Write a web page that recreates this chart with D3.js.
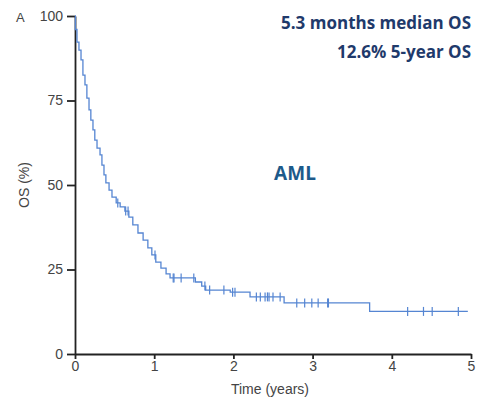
<!DOCTYPE html>
<html>
<head>
<meta charset="utf-8">
<script src="https://cdn.jsdelivr.net/npm/d3@7"></script>
<style>
  body { margin: 0; background: #fff; }
  .axis path, .axis line { stroke: #222; }
  .axis text { font-family: "Liberation Sans", Arial, sans-serif; font-size: 14px; fill: #444; }
</style>
</head>
<body>
<script>
// step points of the Kaplan-Meier curve (years, % surviving)
var stepTimes = [0, 0.005, 0.025, 0.05, 0.076, 0.10, 0.126, 0.15, 0.177, 0.20, 0.227, 0.25, 0.278,
    0.316, 0.34, 0.366, 0.39, 0.43, 0.467, 0.52, 0.57, 0.63, 0.68, 0.73, 0.795, 0.86, 0.92,
    0.97, 1.02, 1.085, 1.15, 1.2, 1.52, 1.6, 1.65, 1.96, 2.21, 2.64, 3.72];
var stepSurv = [100, 96, 92.3, 89.9, 87, 82.5, 79.6, 75.7, 72.2, 69.2, 66.3, 63.3, 60.9,
    58.9, 55.9, 53, 50.6, 48.5, 46.4, 44.7, 43.5, 42.3, 40.5, 38.2, 35.8, 33.7, 31.4,
    29.3, 27.2, 25.4, 23.7, 22.5, 21.3, 20.1, 18.9, 18.3, 16.9, 15.1, 12.6];
var endTime = 4.96;

// censored observations (years)
var censorTimes = [0.54, 0.64, 0.67, 1.01, 1.24, 1.25, 1.34, 1.5, 1.64, 1.7, 1.88, 1.99, 2.02,
    2.29, 2.34, 2.4, 2.43, 2.45, 2.5, 2.59, 2.8, 2.9, 2.99, 3.07, 3.19, 3.2,
    4.2, 4.4, 4.51, 4.84];

var xTicks = [0, 1, 2, 3, 4, 5];
var yTicks = [0, 25, 50, 75, 100];

var width = 486,
    height = 401;

var svg = d3.select("body")
    .append("svg")
    .attr("width", width)
    .attr("height", height);

var x = d3.scaleLinear().domain([0, 5]).range([75, 471]);
var y = d3.scaleLinear().domain([0, 100]).range([354, 16]);

//axes
svg.append("g")
    .attr("class", "axis")
    .attr("transform", "translate(0,354)")
    .call(d3.axisBottom(x).tickValues(xTicks).tickFormat(d3.format("d"))
        .tickSize(5).tickSizeOuter(0).tickPadding(2))
    .call(function(g){ g.selectAll("path, line").attr("stroke-width", 1.8); });

svg.append("g")
    .attr("class", "axis")
    .attr("transform", "translate(75,0)")
    .call(d3.axisLeft(y).tickValues(yTicks).tickSize(8).tickSizeOuter(0).tickPadding(4))
    .call(function(g){ g.selectAll("path, line").attr("stroke-width", 1.8); });

//axis titles
svg.append("text")
    .attr("x", x(2.5) - 3)
    .attr("y", 394)
    .attr("text-anchor", "middle")
    .style("font-family", "Liberation Sans, Arial, sans-serif")
    .style("font-size", "14px")
    .style("fill", "#444")
    .text("Time (years)");

svg.append("text")
    .attr("transform", "translate(29," + y(50) + ") rotate(-90)")
    .attr("text-anchor", "middle")
    .style("font-family", "Liberation Sans, Arial, sans-serif")
    .style("font-size", "14px")
    .style("fill", "#444")
    .text("OS (%)");

svg.append("text")
    .attr("x", 16)
    .attr("y", 22)
    .style("font-family", "Liberation Sans, Arial, sans-serif")
    .style("font-size", "13px")
    .style("fill", "#444")
    .text("A");

//survival curve
var pts = stepTimes.map(function(t, i){ return [t, stepSurv[i]]; });
pts.push([endTime, stepSurv[stepSurv.length - 1]]);

var line = d3.line()
    .x(function(d){ return x(d[0]); })
    .y(function(d){ return y(d[1]); })
    .curve(d3.curveStepAfter);

svg.append("path")
    .datum(pts)
    .attr("fill", "none")
    .attr("stroke", "#5585d2")
    .attr("stroke-width", 1.3)
    .attr("d", line);

//censor marks
function survAt(t){
    var i = d3.bisectRight(stepTimes, t) - 1;
    return stepSurv[Math.max(0, i)];
}

svg.selectAll(".censor")
    .data(censorTimes)
    .enter()
    .append("line")
    .attr("class", "censor")
    .attr("x1", function(d){ return x(d); })
    .attr("x2", function(d){ return x(d); })
    .attr("y1", function(d){ return y(survAt(d)) - 4.5; })
    .attr("y2", function(d){ return y(survAt(d)) + 4.5; })
    .attr("stroke", "#5585d2")
    .attr("stroke-width", 1.2);

//annotations
svg.append("text")
    .attr("x", 471)
    .attr("y", 29)
    .attr("text-anchor", "end")
    .style("font-family", "Open Sans, sans-serif")
    .style("font-weight", "bold")
    .style("font-size", "17px")
    .style("fill", "#1f3a6b")
    .text("5.3 months median OS");

svg.append("text")
    .attr("x", 471)
    .attr("y", 58)
    .attr("text-anchor", "end")
    .style("font-family", "Open Sans, sans-serif")
    .style("font-weight", "bold")
    .style("font-size", "17px")
    .style("fill", "#1f3a6b")
    .text("12.6% 5-year OS");

svg.append("text")
    .attr("x", 295)
    .attr("y", 180)
    .attr("text-anchor", "middle")
    .style("font-family", "Open Sans, sans-serif")
    .style("font-weight", "bold")
    .style("font-size", "19px")
    .style("fill", "#1d5a8a")
    .text("AML");
</script>
</body>
</html>
